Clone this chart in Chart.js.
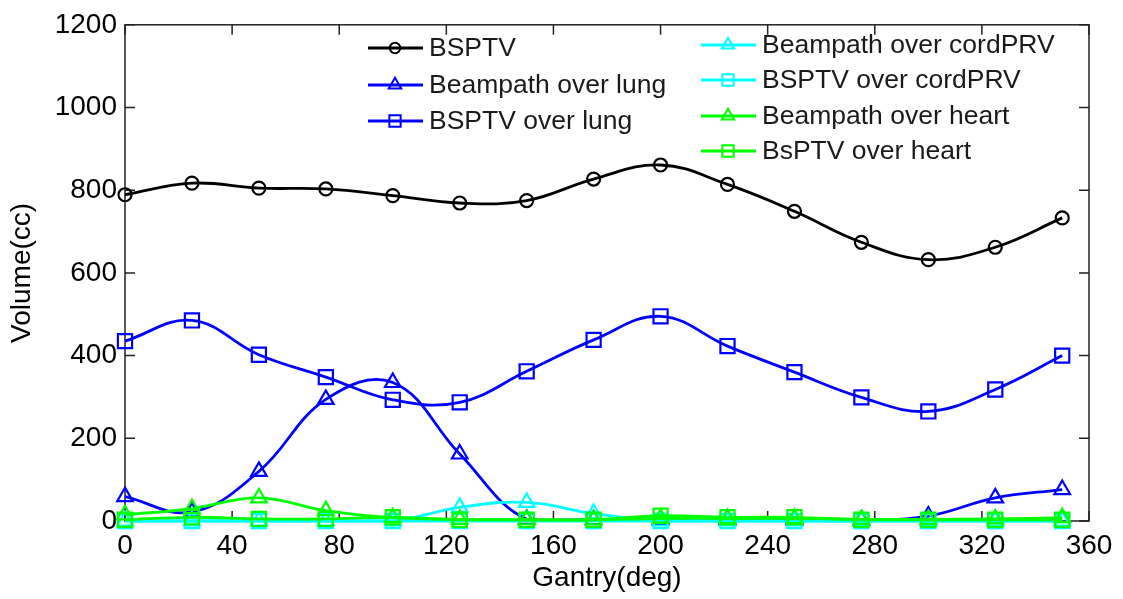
<!DOCTYPE html>
<html>
<head>
<meta charset="utf-8">
<script src="https://cdn.jsdelivr.net/npm/chart.js"></script>
<style>
  html, body { margin: 0; padding: 0; background: #fff; }
  #wrap { width: 1123px; height: 599px; }
</style>
</head>
<body>
<div id="wrap"><canvas id="chart" width="1123" height="599"></canvas></div>
<script>
// gantry angles (deg)
var gantry = [0, 25, 50, 75, 100, 125, 150, 175, 200, 225, 250, 275, 300, 325, 350];

// volumes (cc)
var bsptv       = [789, 817, 805, 803, 787, 769, 775, 827, 861, 814, 749, 674, 632, 662, 733];
var beamLung    = [59, 22, 120, 294, 335, 162, 4, 3, 3, 3, 3, 2, 12, 56, 76];
var bsptvLung   = [435, 485, 402, 348, 293, 287, 362, 438, 495, 423, 360, 299, 265, 318, 400];
var beamCord    = [0, 0, 0, 0, 0, 33, 45, 18, 0, 0, 0, 0, 0, 0, 0];
var bsptvCord   = [0, 0, 0, 0, 0, 0, 0, 0, 0, 0, 0, 0, 0, 0, 0];
var beamHeart   = [15, 30, 56, 25, 8, 4, 3, 3, 6, 6, 6, 4, 4, 5, 8];
var bsptvHeart  = [3, 9, 5, 5, 9, 3, 3, 3, 13, 9, 9, 3, 3, 3, 3];

var seriesNames = ['BSPTV', 'Beampath over lung', 'BSPTV over lung',
                   'Beampath over cordPRV', 'BSPTV over cordPRV',
                   'Beampath over heart', 'BsPTV over heart'];

var xTicks = [0, 40, 80, 120, 160, 200, 240, 280, 320, 360];
var yTicks = [0, 200, 400, 600, 800, 1000, 1200];

var FONT = "'Liberation Sans', Arial, sans-serif";

function pts(vals) {
    return gantry.map(function (g, i) { return { x: g, y: vals[i] }; });
}

function makeSet(i, vals, color, style, r) {
    return {
        label: seriesNames[i],
        data: pts(vals),
        borderColor: color,
        backgroundColor: color,
        borderWidth: 2.8,
        tension: 0.4,
        pointStyle: style,
        pointRadius: r,
        pointBorderWidth: 2.2,
        pointBorderColor: color,
        pointBackgroundColor: 'rgba(0,0,0,0)',
        order: 7 - i,
        clip: 12
    };
}

var datasets = [
    makeSet(0, bsptv, '#000000', 'circle', 6.5),
    makeSet(1, beamLung, '#0000ff', 'triangle', 9),
    makeSet(2, bsptvLung, '#0000ff', 'rect', 10),
    makeSet(3, beamCord, '#00ffff', 'triangle', 9),
    makeSet(4, bsptvCord, '#00ffff', 'rect', 10),
    makeSet(5, beamHeart, '#00ff00', 'triangle', 9),
    makeSet(6, bsptvHeart, '#00ff00', 'rect', 10)
];

// matlab-style box with inward ticks, drawn under the lines
var boxPlugin = {
    id: 'box',
    beforeDatasetsDraw: function (chart) {
        var ctx = chart.ctx, a = chart.chartArea;
        var xs = chart.scales.x, ys = chart.scales.y;
        var tl = 10;
        ctx.save();
        ctx.strokeStyle = '#222';
        ctx.lineWidth = 1.5;
        ctx.strokeRect(a.left, a.top, a.right - a.left, a.bottom - a.top);
        ctx.beginPath();
        xTicks.forEach(function (v) {
            var px = xs.getPixelForValue(v);
            ctx.moveTo(px, a.bottom); ctx.lineTo(px, a.bottom - tl);
            ctx.moveTo(px, a.top); ctx.lineTo(px, a.top + tl);
        });
        yTicks.forEach(function (v) {
            var py = ys.getPixelForValue(v);
            ctx.moveTo(a.left, py); ctx.lineTo(a.left + tl, py);
            ctx.moveTo(a.right, py); ctx.lineTo(a.right - tl, py);
        });
        ctx.stroke();
        ctx.restore();
    }
};

function drawMarker(ctx, style, r, x, y) {
    ctx.beginPath();
    if (style === 'circle') {
        ctx.arc(x, y, r, 0, Math.PI * 2);
    } else if (style === 'triangle') {
        ctx.moveTo(x, y - r);
        ctx.lineTo(x + r * Math.sin(Math.PI / 3), y + r / 2);
        ctx.lineTo(x - r * Math.sin(Math.PI / 3), y + r / 2);
        ctx.closePath();
    } else {
        var s = r * Math.SQRT1_2;
        ctx.rect(x - s, y - s, 2 * s, 2 * s);
    }
    ctx.stroke();
}

// two-column legend like the original figure
var legendPlugin = {
    id: 'twoColLegend',
    afterDraw: function (chart) {
        var ctx = chart.ctx;
        var spots = [
            [368, 48], [368, 85], [368, 121],
            [701, 45], [701, 80], [701, 116], [701, 151]
        ];
        ctx.save();
        ctx.font = '26.5px ' + FONT;
        ctx.textBaseline = 'middle';
        ctx.textAlign = 'left';
        chart.data.datasets.forEach(function (ds, i) {
            var x = spots[i][0], y = spots[i][1];
            ctx.strokeStyle = ds.borderColor;
            ctx.lineWidth = 2.8;
            ctx.beginPath();
            ctx.moveTo(x, y); ctx.lineTo(x + 55, y);
            ctx.stroke();
            ctx.lineWidth = 2;
            drawMarker(ctx, ds.pointStyle, ds.pointRadius * 0.8, x + 27, y);
            ctx.fillStyle = '#1a1a1a';
            ctx.fillText(ds.label, x + 61, y + 1);
        });
        ctx.restore();
    }
};

var chart = new Chart(document.getElementById('chart').getContext('2d'), {
    type: 'line',
    data: { datasets: datasets },
    options: {
        responsive: false,
        animation: false,
        devicePixelRatio: 1,
        layout: { padding: { top: 22, right: 34, left: 0, bottom: 0 } },
        plugins: {
            legend: { display: false },
            tooltip: { enabled: false }
        },
        scales: {
            x: {
                type: 'linear',
                min: 0,
                max: 360,
                afterFit: function (s) { s.height = 78; },
                afterBuildTicks: function (s) { s.ticks = xTicks.map(function (v) { return { value: v }; }); },
                grid: { display: false, drawTicks: false },
                border: { display: false },
                ticks: { color: '#000', padding: 8, maxRotation: 0, font: { family: FONT, size: 28 },
                         callback: function (v) { return String(v); } },
                title: { display: true, text: 'Gantry(deg)', color: '#000', font: { family: FONT, size: 28 }, padding: { top: 0, bottom: 4 } }
            },
            y: {
                min: 0,
                max: 1200,
                afterFit: function (s) { s.width = 125; },
                afterBuildTicks: function (s) { s.ticks = yTicks.map(function (v) { return { value: v }; }); },
                grid: { display: false, drawTicks: false },
                border: { display: false },
                ticks: { color: '#000', padding: 8, font: { family: FONT, size: 28 },
                         callback: function (v) { return String(v); } },
                title: { display: true, text: 'Volume(cc)', color: '#000', font: { family: FONT, size: 28 }, padding: { top: 5, bottom: 0 } }
            }
        }
    },
    plugins: [boxPlugin, legendPlugin]
});
</script>
</body>
</html>
